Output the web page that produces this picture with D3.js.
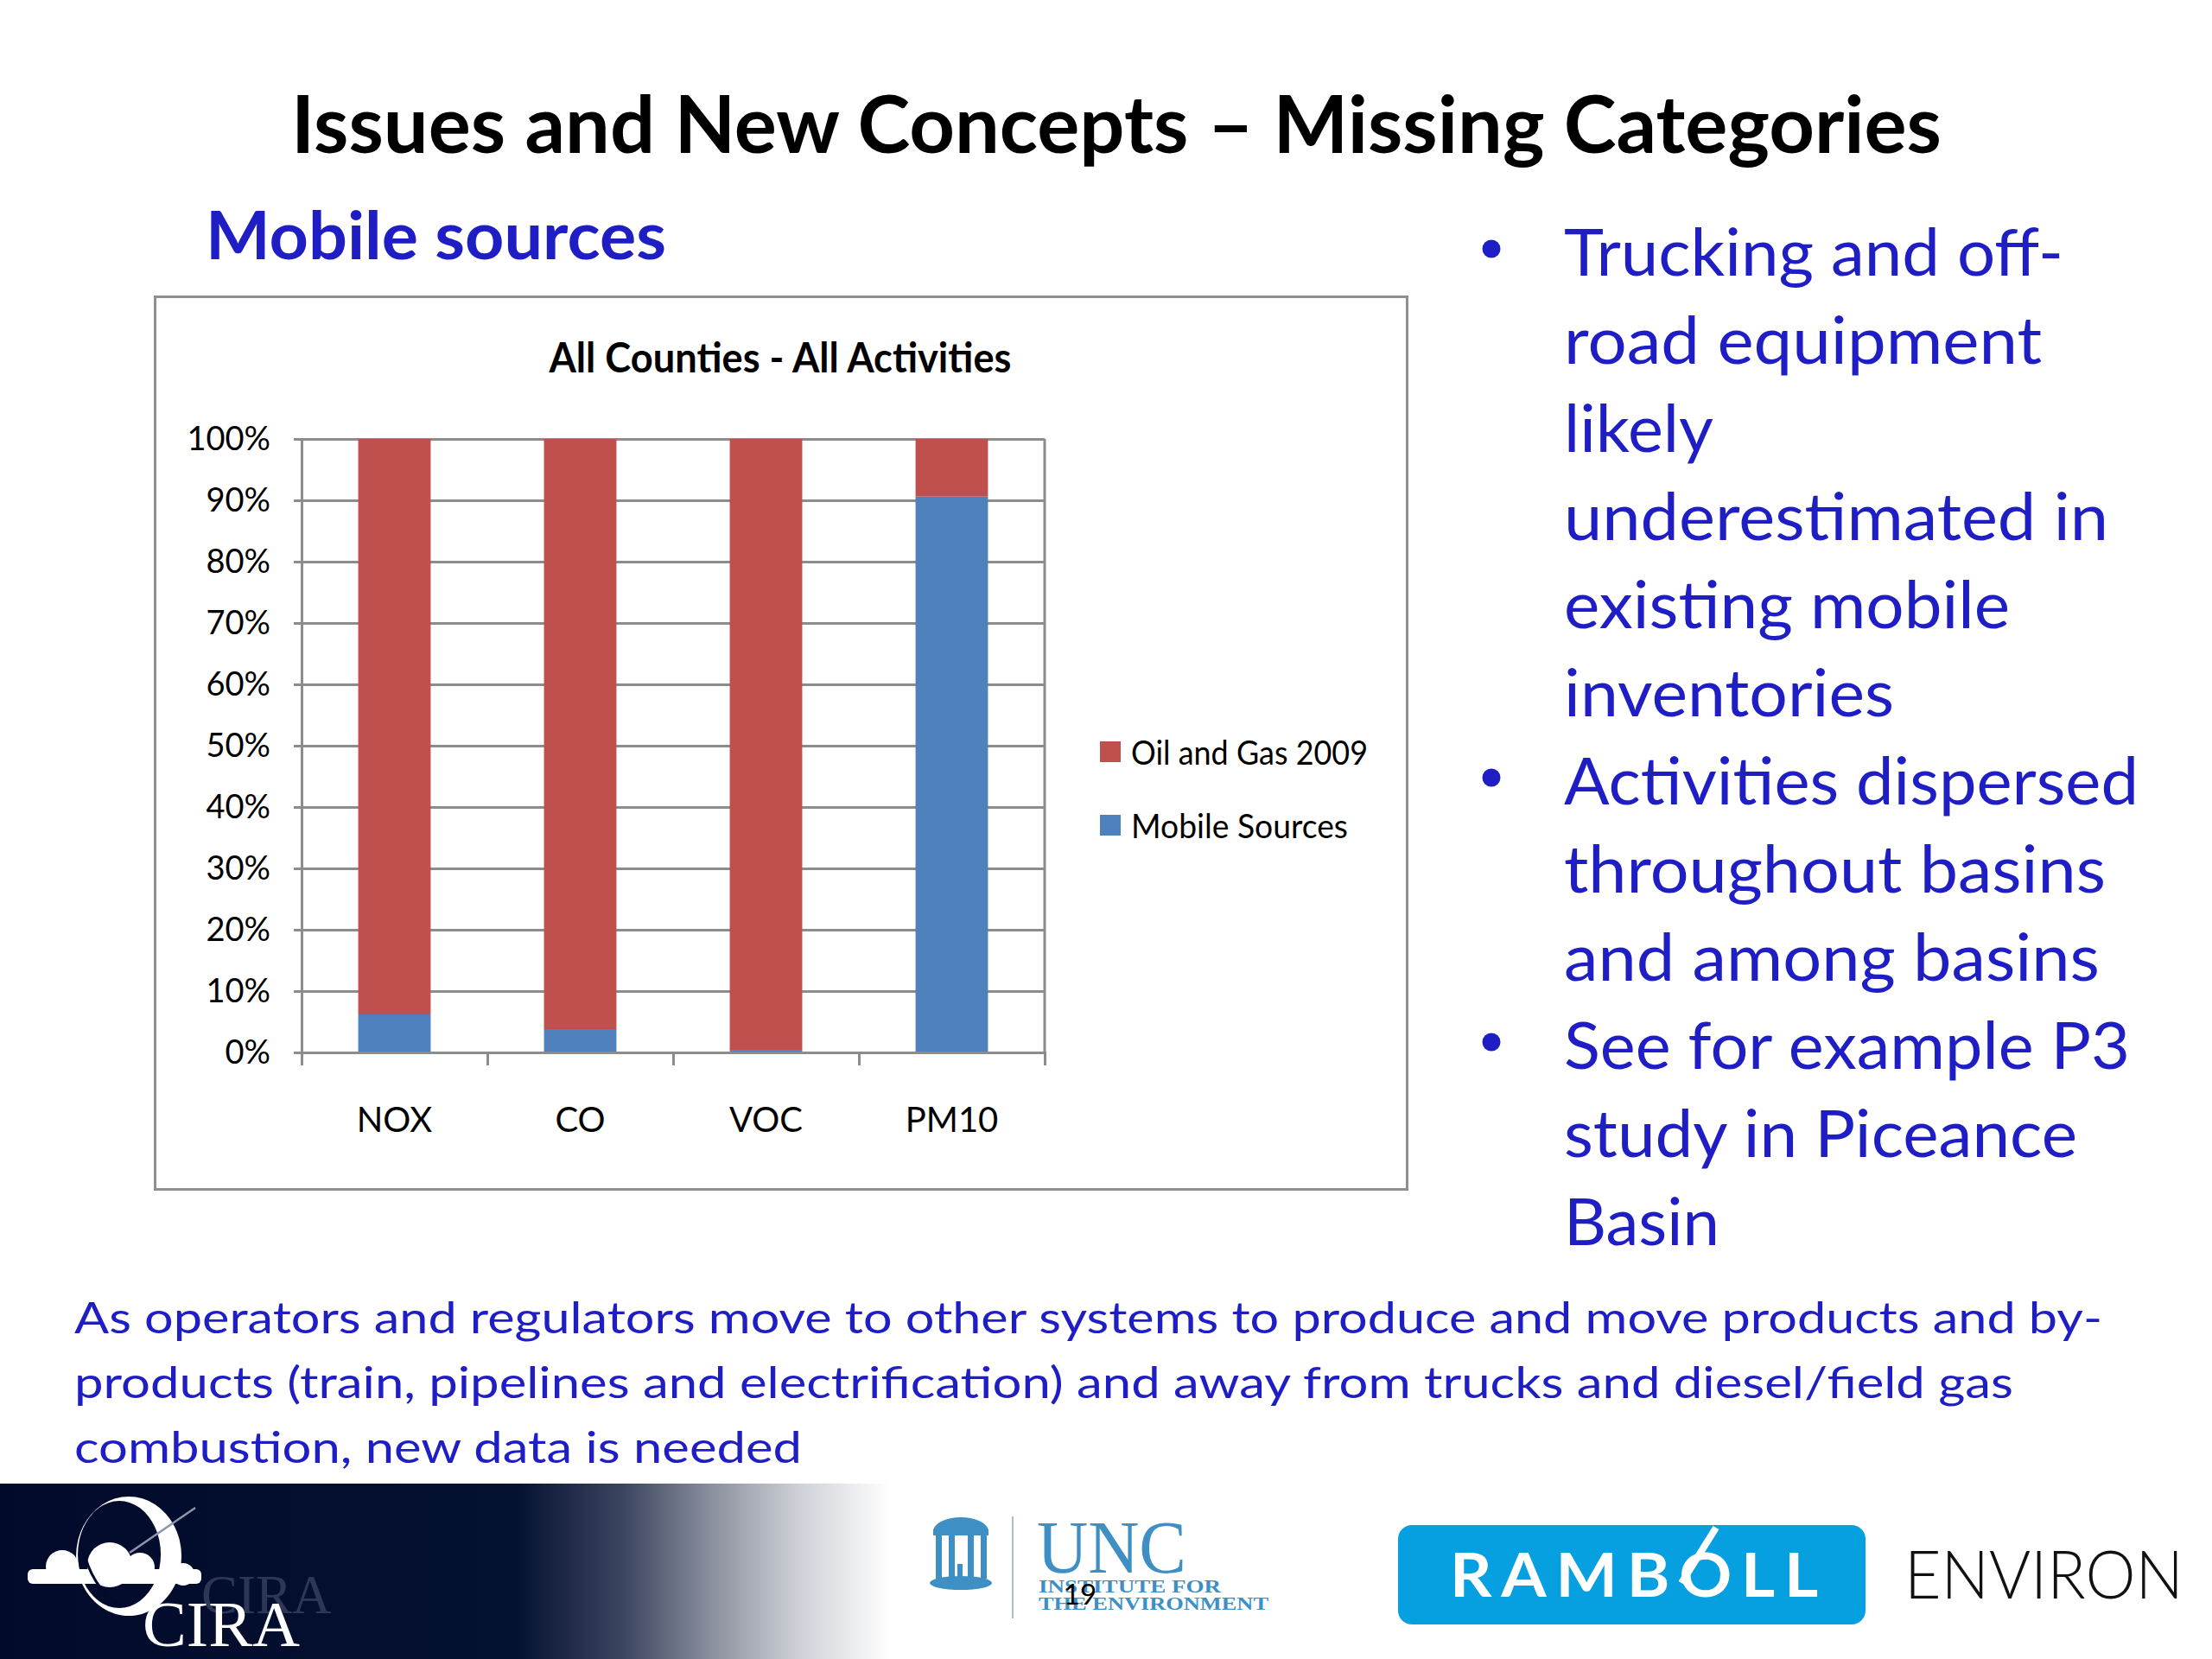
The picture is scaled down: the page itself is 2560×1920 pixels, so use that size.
<!DOCTYPE html>
<html>
<head>
<meta charset="utf-8">
<script src="https://cdn.jsdelivr.net/npm/d3@7"></script>
<style>
  html, body { margin: 0; padding: 0; background: #ffffff; }
  svg { display: block; }
</style>
</head>
<body>
<script>
// ---------------- DATA ----------------
const categories = ["NOX", "CO", "VOC", "PM10"];
const mobileSources = [6.2, 3.8, 0.3, 90.6];      // % share (bottom, blue)
const oilAndGas2009 = [93.8, 96.2, 99.7, 9.4];    // % share (top, red)
const seriesNames = ["Oil and Gas 2009", "Mobile Sources"];
const yTicks = [0, 10, 20, 30, 40, 50, 60, 70, 80, 90, 100];

const pageTitle = "Issues and New Concepts \u2013 Missing Categories";
const subTitle = "Mobile sources";
const chartTitle = "All Counties - All Activities";
const bulletLines = [
  "Trucking and off-", "road equipment", "likely", "underestimated in",
  "existing mobile", "inventories", "Activities dispersed", "throughout basins",
  "and among basins", "See for example P3", "study in Piceance", "Basin"
];
const bulletStarts = [0, 6, 9];
const bulletWidths = [578, 553, 173, 630, 516, 382, 665, 627, 620, 655, 594, 180];
const paragraphLines = [
  "As operators and regulators move to other systems to produce and move products and by-",
  "products (train, pipelines and electrification) and away from trucks and diesel/field gas",
  "combustion, new data is needed"
];
const paragraphWidths = [2347, 2244, 842];

// ---------------- SETUP ----------------
const W = 2560, H = 1920;
const BLUE_TEXT = "#1e1ec4";
const RED = "#C0504D", BLUEBAR = "#4F81BD";
const GRID = "#8c8c8c";
const svg = d3.select("body").append("svg").attr("width", W).attr("height", H);

function fit(sel, w) {
  sel.attr("textLength", w).attr("lengthAdjust", "spacingAndGlyphs");
  return sel;
}

// Page title
fit(svg.append("text")
  .attr("x", 1292).attr("y", 177).attr("text-anchor", "middle")
  .attr("font-family", "Lato, 'Open Sans', sans-serif").attr("font-weight", 700)
  .attr("font-size", 91).attr("fill", "#000").text(pageTitle), 1910);

// Subtitle
fit(svg.append("text")
  .attr("x", 238).attr("y", 300)
  .attr("font-family", "Lato, 'Open Sans', sans-serif").attr("font-weight", 700)
  .attr("font-size", 76).attr("fill", BLUE_TEXT).text(subTitle), 533);

// Bullets
const bulletG = svg.append("g");
bulletLines.forEach((t, i) => {
  const by = 319 + i * 102;
  fit(bulletG.append("text")
    .attr("x", 1810).attr("y", by)
    .attr("font-family", "Lato, 'Open Sans', sans-serif")
    .attr("font-size", 76).attr("fill", BLUE_TEXT).text(t), bulletWidths[i]);
  if (bulletStarts.includes(i)) {
    bulletG.append("circle").attr("cx", 1726).attr("cy", by - 31).attr("r", 10.5).attr("fill", BLUE_TEXT);
  }
});

// Paragraph
paragraphLines.forEach((t, i) => {
  fit(svg.append("text")
    .attr("x", 86).attr("y", 1543 + i * 75)
    .attr("font-family", "Lato, 'Open Sans', sans-serif")
    .attr("font-size", 50).attr("fill", BLUE_TEXT).text(t), paragraphWidths[i]);
});

// ---------------- CHART ----------------
svg.append("rect").attr("x", 179.5).attr("y", 343.5).attr("width", 1449).attr("height", 1033)
  .attr("fill", "#fff").attr("stroke", "#8e8e8e").attr("stroke-width", 3);

fit(svg.append("text").attr("x", 903).attr("y", 431).attr("text-anchor", "middle")
  .attr("font-family", "Lato, sans-serif").attr("font-weight", 700)
  .attr("font-size", 47).attr("fill", "#000").text(chartTitle), 535);

const P = { left: 349, right: 1209, top: 508, bottom: 1218 };
const x = d3.scaleBand().domain(categories).range([P.left, P.right])
  .paddingInner(0.61).paddingOuter(0.305);
const xb = d3.scaleLinear().domain([0, categories.length]).range([P.left, P.right]);
const y = d3.scaleLinear().domain([0, 100]).range([P.bottom, P.top]);

// gridlines
const grid = svg.append("g").attr("transform", `translate(${P.left},0)`)
  .call(d3.axisLeft(y).tickValues(yTicks).tickSize(-(P.right - P.left)).tickFormat(""));
grid.select(".domain").remove();
grid.selectAll("line").attr("stroke", GRID).attr("stroke-width", 3);

// right border of plot
svg.append("line").attr("x1", P.right).attr("x2", P.right).attr("y1", P.top).attr("y2", P.bottom)
  .attr("stroke", GRID).attr("stroke-width", 3);

// bars
const rows = categories.map((c, i) => ({ cat: c, mobile: mobileSources[i], oil: oilAndGas2009[i] }));
const stack = d3.stack().keys(["mobile", "oil"]);
const stacked = stack(rows);
const colorMap = { mobile: BLUEBAR, oil: RED };
svg.append("g").selectAll("g").data(stacked).join("g")
  .attr("fill", d => colorMap[d.key])
  .selectAll("rect").data(d => d).join("rect")
  .attr("x", d => x(d.data.cat))
  .attr("width", x.bandwidth())
  .attr("y", d => y(d[1]))
  .attr("height", d => y(d[0]) - y(d[1]));

// y axis
const yAxis = svg.append("g").attr("transform", `translate(${P.left},0)`)
  .call(d3.axisLeft(y).tickValues(yTicks).tickSize(9).tickPadding(27).tickFormat(d => d + "%"));
yAxis.select(".domain").attr("stroke", GRID).attr("stroke-width", 3);
yAxis.selectAll("line").attr("stroke", GRID).attr("stroke-width", 3);
yAxis.selectAll("text").attr("font-family", "Lato, sans-serif").attr("font-size", 38).attr("fill", "#000");

// x axis boundary ticks
const xAxisB = svg.append("g").attr("transform", `translate(0,${P.bottom})`)
  .call(d3.axisBottom(xb).tickValues(d3.range(0, categories.length + 1)).tickSize(15).tickFormat(""));
xAxisB.select(".domain").attr("stroke", GRID).attr("stroke-width", 3);
xAxisB.selectAll("line").attr("stroke", GRID).attr("stroke-width", 3);

// x labels
const xAxis = svg.append("g").attr("transform", `translate(0,${P.bottom})`)
  .call(d3.axisBottom(x).tickSize(0));
xAxis.select(".domain").remove();
xAxis.selectAll("text").attr("y", 92).attr("dy", null)
  .attr("font-family", "Lato, sans-serif").attr("font-size", 40).attr("fill", "#000");

// legend
const legendColors = [RED, BLUEBAR];
const legendWidths = [274, 251];
const lg = svg.append("g");
seriesNames.forEach((n, i) => {
  const ly = 858 + i * 85;
  lg.append("rect").attr("x", 1273).attr("y", ly).attr("width", 24).attr("height", 24).attr("fill", legendColors[i]);
  fit(lg.append("text").attr("x", 1309).attr("y", ly + 27)
    .attr("font-family", "Lato, sans-serif").attr("font-size", 38).attr("fill", "#000").text(n), legendWidths[i]);
});

// ---------------- FOOTER ----------------
const defs = svg.append("defs");
const grad = defs.append("linearGradient").attr("id", "band").attr("gradientUnits", "userSpaceOnUse")
  .attr("x1", 0).attr("x2", 1030).attr("y1", 0).attr("y2", 0);
[[0, "#020a2b"], [0.58, "#051131"], [0.7, "#3c4560"], [0.8, "#8a909e"], [0.9, "#cfd2d8"], [1, "#ffffff"]]
  .forEach(([o, c]) => grad.append("stop").attr("offset", o).attr("stop-color", c));
svg.append("rect").attr("x", 0).attr("y", 1717).attr("width", 1030).attr("height", 203).attr("fill", "url(#band)");

// CIRA logo
const cira = svg.append("g");
cira.append("text").attr("x", 233).attr("y", 1867).attr("font-family", "'Liberation Serif', serif")
  .attr("font-size", 63).attr("fill", "#4a5270").attr("opacity", 0.6).text("CIRA");
cira.append("path").attr("fill", "#fff").attr("fill-rule", "evenodd")
  .attr("d", "M149,1732 a61,69 0 1,0 0.1,0 Z M138,1737 a48,62 0 1,0 0.1,0 Z");
const cloud = cira.append("g").attr("fill", "#fff");
cloud.append("rect").attr("x", 32).attr("y", 1816).attr("width", 201).attr("height", 17).attr("rx", 6);
cloud.append("circle").attr("cx", 72).attr("cy", 1813).attr("r", 19);
cloud.append("circle").attr("cx", 127).attr("cy", 1811).attr("r", 26);
cloud.append("circle").attr("cx", 162).attr("cy", 1814).attr("r", 17);
cloud.append("circle").attr("cx", 212).attr("cy", 1822).attr("r", 13);
cira.append("path").attr("fill", "none").attr("stroke", "#020a2b").attr("stroke-width", 3)
  .attr("d", "M96,1790 Q104,1835 140,1860");
cira.append("line").attr("x1", 150).attr("y1", 1797).attr("x2", 226).attr("y2", 1745)
  .attr("stroke", "#8d94ab").attr("stroke-width", 2.5);
fit(cira.append("text").attr("x", 165).attr("y", 1905).attr("font-family", "'Liberation Serif', serif")
  .attr("font-size", 73).attr("fill", "#fff").text("CIRA"), 182);

// UNC logo
const UNC = "#3d8fc4";
const unc = svg.append("g").attr("fill", UNC);
unc.append("path").attr("d", "M1080,1772 a32,16 0 0,1 64,0 Z");
unc.append("rect").attr("x", 1080).attr("y", 1770).attr("width", 64).attr("height", 7);
[1083, 1098, 1120, 1135].forEach(cx => unc.append("rect").attr("x", cx).attr("y", 1777).attr("width", 7).attr("height", 50));
unc.append("rect").attr("x", 1108).attr("y", 1810).attr("width", 6).attr("height", 17);
unc.append("ellipse").attr("cx", 1112).attr("cy", 1832).attr("rx", 36).attr("ry", 8);
svg.append("line").attr("x1", 1172).attr("x2", 1172).attr("y1", 1755).attr("y2", 1873)
  .attr("stroke", "#a9bccb").attr("stroke-width", 2);
fit(unc.append("text").attr("x", 1200).attr("y", 1820).attr("font-family", "'Liberation Serif', serif")
  .attr("font-size", 86).text("UNC"), 173);
fit(unc.append("text").attr("x", 1202).attr("y", 1843).attr("font-family", "'Liberation Serif', serif")
  .attr("font-weight", 700).attr("font-size", 20).text("INSTITUTE FOR"), 211);
fit(unc.append("text").attr("x", 1202).attr("y", 1863).attr("font-family", "'Liberation Serif', serif")
  .attr("font-weight", 700).attr("font-size", 20).text("THE ENVIRONMENT"), 266);

// page number
svg.append("text").attr("x", 1250).attr("y", 1857).attr("text-anchor", "middle")
  .attr("font-family", "Lato, sans-serif").attr("font-size", 33).attr("fill", "#000").text("19");

// Ramboll logo
svg.append("rect").attr("x", 1618).attr("y", 1765).attr("width", 541).attr("height", 115).attr("rx", 16)
  .attr("fill", "#069fe0");
fit(svg.append("text").attr("x", 1678).attr("y", 1848).attr("font-family", "Lato, sans-serif")
  .attr("font-weight", 700).attr("font-size", 70).attr("letter-spacing", 10).attr("fill", "#fff").text("RAMBOLL"), 437);
svg.append("line").attr("x1", 1946).attr("y1", 1832).attr("x2", 1986).attr("y2", 1768)
  .attr("stroke", "#fff").attr("stroke-width", 8).attr("stroke-linecap", "butt");

// Environ
fit(svg.append("text").attr("x", 2204).attr("y", 1850).attr("font-family", "Lato, sans-serif")
  .attr("font-weight", 300).attr("font-size", 76).attr("fill", "#111").text("ENVIRON"), 323);
</script>
</body>
</html>
